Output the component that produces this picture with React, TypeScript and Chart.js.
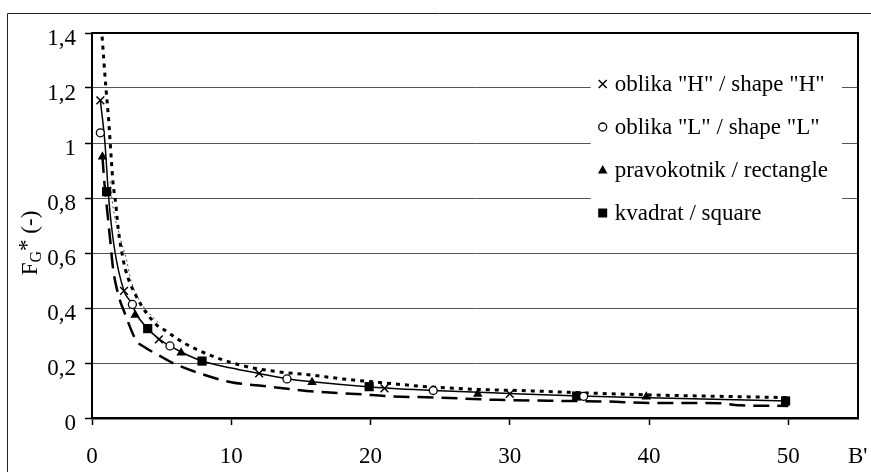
import React, { useEffect, useRef } from 'react';
import { Chart, registerables } from 'chart.js';

Chart.register(...registerables);

// ---- marker series ----
const seriesLabels = ['oblika "H" / shape "H"', 'oblika "L" / shape "L"', 'pravokotnik / rectangle', 'kvadrat / square'];

const hX = [0.6, 2.3, 4.8, 12, 21, 30];
const hY = [1.155, 0.462, 0.286, 0.162, 0.108, 0.088];
const lX = [0.6, 2.9, 5.6, 14, 24.5, 35.3];
const lY = [1.037, 0.413, 0.262, 0.142, 0.1, 0.079];
const rX = [0.75, 3.1, 6.4, 15.8, 27.7, 39.8];
const rY = [0.95, 0.375, 0.237, 0.13, 0.087, 0.077];
const sX = [1.05, 4.0, 7.9, 19.9, 34.8, 49.8];
const sY = [0.823, 0.325, 0.207, 0.114, 0.08, 0.062];

// ---- curves ----
const solidX = [0.6, 0.93, 1.2, 1.6, 2.3, 2.9, 3.1, 4.0, 4.8, 5.6, 6.4, 7.9, 10, 12, 14, 16, 20, 24.5, 30, 35, 40, 50];
const solidY = [1.155, 1.0, 0.8, 0.62, 0.462, 0.413, 0.385, 0.325, 0.288, 0.262, 0.24, 0.207, 0.182, 0.162, 0.143, 0.131, 0.113, 0.1, 0.089, 0.08, 0.074, 0.062];

const dotX = [0.68, 0.85, 1.0, 1.2, 1.4, 1.5, 1.7, 1.9, 2.15, 2.4, 3.1, 4.6, 5.2, 6.7, 8.7, 11, 13.4, 15.8, 18, 20.5, 24, 27.7, 31.3, 35, 40, 46, 50];
const dotY = [1.42, 1.3, 1.2, 1.08, 0.93, 0.86, 0.78, 0.68, 0.6, 0.54, 0.45, 0.34, 0.32, 0.27, 0.224, 0.188, 0.168, 0.156, 0.142, 0.13, 0.114, 0.104, 0.099, 0.092, 0.084, 0.078, 0.074];

const dashX = [0.75, 0.9, 1.1, 1.3, 1.52, 1.88, 2.36, 3.2, 3.7, 4.9, 5.8, 7.7, 10, 12, 14.4, 16, 19.4, 21, 25, 29, 34, 37, 40, 45, 46.5, 50];
const dashY = [0.95, 0.85, 0.75, 0.65, 0.54, 0.45, 0.38, 0.28, 0.26, 0.225, 0.2, 0.163, 0.13, 0.118, 0.104, 0.096, 0.086, 0.08, 0.074, 0.066, 0.062, 0.06, 0.055, 0.054, 0.046, 0.044];

const thinX = [1.3, 1.5, 2.0, 2.5, 2.8, 3.5, 4.5, 4.9];
const thinY = [0.86, 0.77, 0.66, 0.57, 0.5, 0.42, 0.36, 0.34];

// ---- axes ----
const yMin = 0, yMax = 1.4, yStep = 0.2;
const xMin = 0, xMax = 55, xStep = 10;
const xTitle = "B'";

const FONT = '"Liberation Serif", "Times New Roman", Times, serif';
const FS = 23;

const pts = (xs: number[], ys: number[]) => xs.map((x, i) => ({ x, y: ys[i] }));

export default function App() {
  const ref = useRef<HTMLCanvasElement>(null);

  useEffect(() => {
    const canvas = ref.current!;
    Chart.defaults.font.family = FONT;
    Chart.defaults.font.size = FS;
    Chart.defaults.color = '#000';

    const drawMarker = (ctx: CanvasRenderingContext2D, style: string, x: number, y: number) => {
      ctx.save();
      ctx.strokeStyle = '#000';
      ctx.fillStyle = '#000';
      ctx.lineWidth = 1.5;
      if (style === 'x') {
        const r = 4;
        ctx.beginPath();
        ctx.moveTo(x - r, y - r); ctx.lineTo(x + r, y + r);
        ctx.moveTo(x + r, y - r); ctx.lineTo(x - r, y + r);
        ctx.stroke();
      } else if (style === 'o') {
        ctx.fillStyle = '#fff';
        ctx.lineWidth = 1.3;
        ctx.beginPath(); ctx.arc(x, y, 4, 0, Math.PI * 2); ctx.fill(); ctx.stroke();
      } else if (style === 'tri') {
        ctx.beginPath();
        ctx.moveTo(x, y - 5); ctx.lineTo(x + 4.8, y + 3.5); ctx.lineTo(x - 4.8, y + 3.5); ctx.closePath(); ctx.fill();
      } else {
        ctx.fillRect(x - 4.5, y - 4.5, 9, 9);
      }
      ctx.restore();
    };

    const decorPlugin = {
      id: 'decor',
      afterDraw(chart: any) {
        const ctx: CanvasRenderingContext2D = chart.ctx;
        const a = chart.chartArea;
        ctx.save();
        // outer frame (cropped)
        ctx.strokeStyle = '#222';
        ctx.lineWidth = 1;
        ctx.beginPath();
        ctx.moveTo(7.5, 480); ctx.lineTo(7.5, 13.5); ctx.lineTo(880, 13.5);
        ctx.stroke();
        // plot border top / right
        ctx.strokeStyle = '#000';
        ctx.lineWidth = 2;
        ctx.beginPath();
        ctx.moveTo(a.left, a.top); ctx.lineTo(a.right, a.top); ctx.lineTo(a.right, a.bottom);
        ctx.stroke();

        // legend
        ctx.font = `${FS}px ${FONT}`;
        const maxW = Math.max(...seriesLabels.map((t) => ctx.measureText(t).width));
        const textX = 828 - maxW;
        const markX = textX - 12;
        const styles = ['x', 'o', 'tri', 'sq'];
        const rowY = [84, 127, 170, 213];
        ctx.fillStyle = '#fff';
        ctx.fillRect(markX - 12, 62, 842 - (markX - 12), 236 - 62);
        ctx.fillStyle = '#000';
        ctx.textBaseline = 'middle';
        ctx.textAlign = 'left';
        seriesLabels.forEach((t, i) => {
          drawMarker(ctx, styles[i], markX, rowY[i]);
          ctx.fillStyle = '#000';
          ctx.fillText(t, textX, rowY[i] + 1);
        });

        // x title
        ctx.textBaseline = 'middle';
        ctx.fillText(xTitle, 848, a.bottom + 7 + 18 + FS * 0.6);

        // y title: F_G* (-)
        ctx.translate(30, 243);
        ctx.rotate(-Math.PI / 2);
        ctx.textBaseline = 'alphabetic';
        const big = `${FS}px ${FONT}`;
        const small = `16px ${FONT}`;
        const parts = [
          { t: 'F', f: big, dy: 0 },
          { t: 'G', f: small, dy: 4 },
          { t: '*', f: big, dy: -3 },
          { t: ' (-)', f: big, dy: 0 },
        ];
        let total = 0;
        const widths = parts.map((p) => { ctx.font = p.f; const w = ctx.measureText(p.t).width; total += w; return w; });
        let cx = -total / 2;
        parts.forEach((p, i) => {
          ctx.font = p.f;
          ctx.fillText(p.t, cx, 7 + p.dy);
          cx += widths[i];
        });
        ctx.restore();
      },
    };

    const lineDs = (label: string, xs: number[], ys: number[], extra: any) => ({
      label,
      data: pts(xs, ys),
      showLine: true,
      pointRadius: 0,
      borderColor: '#000',
      backgroundColor: '#000',
      cubicInterpolationMode: 'monotone',
      borderCapStyle: 'butt',
      ...extra,
    });

    const chart = new Chart(canvas, {
      type: 'scatter',
      data: {
        datasets: [
          { label: seriesLabels[0], data: pts(hX, hY), pointStyle: 'crossRot', pointRadius: 5.5, borderColor: '#000', backgroundColor: '#000', pointBorderWidth: 1.5, showLine: false },
          { label: seriesLabels[1], data: pts(lX, lY), pointStyle: 'circle', pointRadius: 4, borderColor: '#000', backgroundColor: '#fff', pointBorderWidth: 1.3, showLine: false },
          { label: seriesLabels[2], data: pts(rX, rY), pointStyle: 'triangle', pointRadius: 5.5, borderColor: '#000', backgroundColor: '#000', pointBorderWidth: 0, showLine: false },
          { label: seriesLabels[3], data: pts(sX, sY), pointStyle: 'rect', pointRadius: 6.5, borderColor: '#000', backgroundColor: '#000', pointBorderWidth: 0, showLine: false },
          lineDs('solid', solidX, solidY, { borderWidth: 1.5 }),
          lineDs('dotted', dotX, dotY, { borderWidth: 3, borderDash: [4, 5] }),
          lineDs('dashed', dashX, dashY, { borderWidth: 2.5, borderDash: [16, 8] }),
          lineDs('thin', thinX, thinY, { borderWidth: 1, borderDash: [2, 3], borderColor: '#444' }),
        ],
      },
      options: {
        responsive: false,
        animation: false,
        events: [],
        layout: { padding: { left: 0, top: 33, right: 13, bottom: 0 } },
        plugins: { legend: { display: false }, tooltip: { enabled: false } },
        scales: {
          x: {
            type: 'linear',
            min: xMin,
            max: xMax,
            afterFit: (s: any) => { s.height = 54; },
            ticks: { stepSize: xStep, includeBounds: false, padding: 18, maxRotation: 0, color: '#000' },
            grid: { display: true, drawOnChartArea: false, drawTicks: true, tickLength: 7, tickColor: '#000', tickWidth: 1.5 },
            border: { display: true, color: '#000', width: 2.5 },
          },
          y: {
            type: 'linear',
            min: yMin,
            max: yMax,
            afterFit: (s: any) => { s.width = 92; },
            ticks: {
              stepSize: yStep,
              padding: 9,
              labelOffset: 6,
              color: '#000',
              callback: (v: any) => String(Math.round(Number(v) * 10) / 10).replace('.', ','),
            },
            grid: { color: '#555', lineWidth: 1, tickLength: 7, tickColor: '#000', tickWidth: 1.5 },
            border: { display: true, color: '#000', width: 2 },
          },
        },
      },
      plugins: [decorPlugin],
    } as any);

    return () => chart.destroy();
  }, []);

  return (
    <div style={{ position: 'fixed', left: 0, top: 0, width: 871, height: 472, background: '#fff' }}>
      <canvas ref={ref} width={871} height={472} style={{ display: 'block' }} />
    </div>
  );
}
